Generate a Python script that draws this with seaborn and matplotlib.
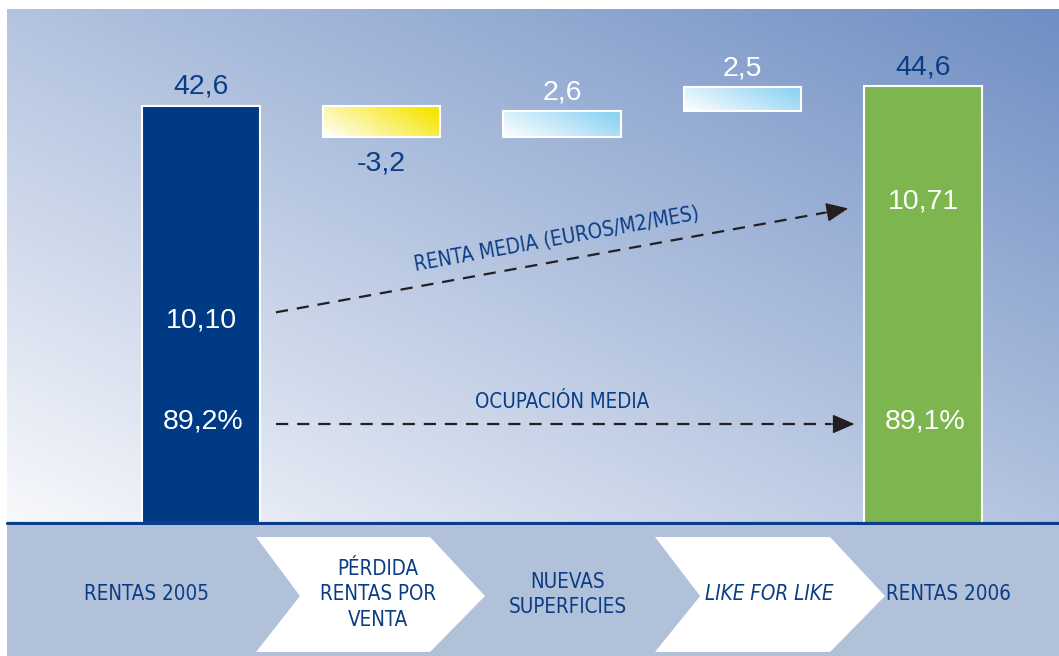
import numpy as np
import matplotlib
matplotlib.use("Agg")
import matplotlib.pyplot as plt
from matplotlib import font_manager
from matplotlib.patches import Polygon
import pandas as pd
import seaborn as sns

# ---- data -------------------------------------------------------------
categories = ["RENTAS 2005", "PÉRDIDA\nRENTAS POR\nVENTA", "NUEVAS\nSUPERFICIES",
              "LIKE FOR LIKE", "RENTAS 2006"]
start_total = 42.6
deltas = [-3.2, 2.6, 2.5]
end_total = 44.6
value_labels = ["42,6", "-3,2", "2,6", "2,5", "44,6"]
rent_labels = ["10,10", "10,71"]          # renta media (euros/m2/mes)
occupancy_labels = ["89,2%", "89,1%"]     # ocupación media

# ---- style ------------------------------------------------------------
sns.set_theme(style="white")
names = {f.name for f in font_manager.fontManager.ttflist}
if "Liberation Sans Narrow" in names:
    NARROW = dict(family=["Liberation Sans Narrow", "DejaVu Sans"], fontsize=15.5)
else:
    NARROW = dict(family=["DejaVu Sans"], fontstretch="condensed", fontsize=14.8)
NUMF = "Liberation Sans" if "Liberation Sans" in names else "DejaVu Sans"
plt.rcParams["font.family"] = [NUMF, "DejaVu Sans"]

NAVY = "#003a85"
GREEN = "#7db54e"
TEXT_NAVY = "#0b3d85"
BAND = "#b0c1d9"
BAR_W = 0.65

W, H = 1059, 656
fig = plt.figure(figsize=(W / 100, H / 100), dpi=100, facecolor="white")
ax = fig.add_axes([7 / W, (H - 523) / H, (W - 7) / W, 514 / H])
band = fig.add_axes([7 / W, 0, (W - 7) / W, 131 / H])

XLIM = (-1.075, 4.753)
YLIM = (0, 52.45)

# ---- background gradient ----------------------------------------------
u = np.linspace(0, 1, 400)[None, :]
v = np.linspace(1, 0, 300)[:, None]
t = np.clip((u + v) / 2, 0, 1)
c0 = np.array([0.972, 0.976, 0.988])
c1 = np.array([0.435, 0.557, 0.765])
bg = c0 + (c1 - c0) * t[..., None]
ax.imshow(bg, extent=[0, 1, 0, 1], transform=ax.transAxes, aspect="auto",
          zorder=0, interpolation="bicubic")

# ---- total bars (seaborn) ---------------------------------------------
totals = pd.DataFrame({"step": [categories[0], categories[-1]],
                       "value": [start_total, end_total]})
sns.barplot(data=totals, x="step", y="value", order=categories, hue="step",
            palette={categories[0]: NAVY, categories[-1]: GREEN},
            width=BAR_W, saturation=1, edgecolor="white", linewidth=1.5,
            legend=False, ax=ax, zorder=3)

# ---- floating change bars with gradients ------------------------------
levels = start_total + np.concatenate([[0], np.cumsum(deltas)])
grad_colors = ["#f6e500", "#8fd3f4", "#8fd3f4"]
gu = np.linspace(0, 1, 200)[None, :]
gv = np.linspace(1, 0, 50)[:, None]
gt = np.clip(gu * 0.75 + gv * 0.35, 0, 1)
for i, d in enumerate(deltas):
    pos = i + 1
    base = levels[i]
    bars = ax.bar(pos, d, bottom=base, width=BAR_W, facecolor="none",
                  edgecolor="white", linewidth=1.5, zorder=4)
    rect = bars.patches[0]
    lo, hi = min(base, base + d), max(base, base + d)
    col = np.array(matplotlib.colors.to_rgb(grad_colors[i]))
    img = np.ones(3) + (col - np.ones(3)) * gt[..., None]
    im = ax.imshow(img, extent=[pos - BAR_W / 2, pos + BAR_W / 2, lo, hi],
                   aspect="auto", zorder=3.5, interpolation="bicubic")
    im.set_clip_path(rect)

ax.set_xlim(*XLIM)
ax.set_ylim(*YLIM)
ax.set_axis_off()

# ---- value labels -----------------------------------------------------
tops = [start_total] + [max(levels[i], levels[i] + d) for i, d in enumerate(deltas)] + [end_total]
bottoms = [0] + [min(levels[i], levels[i] + d) for i, d in enumerate(deltas)] + [0]
label_colors = [TEXT_NAVY, TEXT_NAVY, "white", "white", TEXT_NAVY]
all_vals = [start_total] + deltas + [end_total]
for i, (txt, val) in enumerate(zip(value_labels, all_vals)):
    if val >= 0:
        ax.annotate(txt, (i, tops[i]), xytext=(0, 13.5), textcoords="offset points",
                    ha="center", va="center", fontsize=20.5, color=label_colors[i],
                    zorder=6)
    else:
        ax.annotate(txt, (i, bottoms[i]), xytext=(0, -19.5), textcoords="offset points",
                    ha="center", va="center", fontsize=20.5, color=label_colors[i],
                    zorder=6)

rent_y = [20.7, 32.8]
occ_y = 10.4
for k, pos in enumerate([0, 4]):
    ax.text(pos, rent_y[k], rent_labels[k], ha="center", va="center",
            fontsize=20.5, color="white", zorder=6)
    ax.text(pos + 0.01, occ_y, occupancy_labels[k], ha="center", va="center",
            fontsize=20.5, color="white", zorder=6)

# ---- dashed arrows ----------------------------------------------------
ARROW_C = "#231f20"


def dashed_arrow(p0, p1):
    p0, p1 = np.array(p0), np.array(p1)
    back = p1 - 0.04 * (p1 - p0)
    ax.plot([p0[0], back[0]], [p0[1], back[1]], color=ARROW_C, lw=1.6,
            linestyle=(0, (5.5, 4)), zorder=5, solid_capstyle="butt")
    ax.annotate("", xy=p1, xytext=back,
                arrowprops=dict(arrowstyle="-|>,head_length=1.15,head_width=0.5",
                                color=ARROW_C, lw=1.0, shrinkA=0, shrinkB=0),
                zorder=5)


rent_arrow = ((0.415, 21.5), (3.585, 32.1))
occ_arrow = ((0.415, 10.1), (3.62, 10.1))
dashed_arrow(*rent_arrow)
dashed_arrow(*occ_arrow)

(p0, p1) = [ax.transData.transform(p) for p in rent_arrow]
angle = np.degrees(np.arctan2(p1[1] - p0[1], p1[0] - p0[0]))
ax.text(1.972, 28.9, "RENTA MEDIA (EUROS/M2/MES)", rotation=angle,
        rotation_mode="anchor", ha="center", va="center",
        color=TEXT_NAVY, zorder=6, **NARROW)
ax.text(2.0, 12.35, "OCUPACIÓN MEDIA", ha="center", va="center",
        color=TEXT_NAVY, zorder=6, **NARROW)

# baseline rule
ax.axhline(0, color="#0b3d8c", lw=2.3, zorder=7, clip_on=False)

# ---- bottom band with step names --------------------------------------
band.set_facecolor(BAND)
band.set_xlim(*XLIM)
band.set_ylim(0, 1)
for s in band.spines.values():
    s.set_visible(False)
band.set_xticks([])
band.set_yticks([])

chevrons = [(0.305, 0.548, 1.269, 1.573), (2.515, 2.765, 3.485, 3.789)]
ytop, ymid, ybot = 0.908, 0.458, 0.031
for left, notch, right, tip in chevrons:
    band.add_patch(Polygon([(left, ytop), (right, ytop), (tip, ymid), (right, ybot),
                            (left, ybot), (notch, ymid)], closed=True,
                           facecolor="white", edgecolor="none"))

label_x = [-0.30, 0.98, 2.03, 3.15, 4.14]
for i, (name, x) in enumerate(zip(categories, label_x)):
    band.text(x, 0.47, name, ha="center", va="center", linespacing=1.32,
              color=TEXT_NAVY,
              style="italic" if name == "LIKE FOR LIKE" else "normal", **NARROW)

fig.savefig("out.png", dpi=100, facecolor="white")
